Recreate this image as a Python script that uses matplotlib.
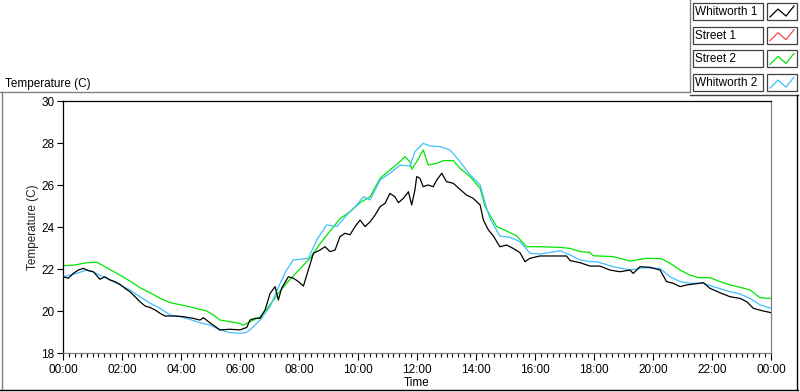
import matplotlib
matplotlib.use("Agg")
import matplotlib.pyplot as plt
from matplotlib.ticker import FixedLocator, FuncFormatter
from matplotlib.lines import Line2D
from matplotlib.patches import Rectangle

plt.rcParams['font.family'] = ['Liberation Sans', 'DejaVu Sans']

# hours since midnight, temperature in C
whit1_h = [0, 0.18, 0.35, 0.52, 0.69, 0.86, 1.03, 1.25, 1.42, 1.59,
           1.76, 1.93, 2.1, 2.27, 2.44, 2.61, 2.78, 2.95, 3.12, 3.29,
           3.46, 3.63, 3.8, 4.08, 4.42, 4.64, 4.76, 4.98, 5.32, 5.66,
           6.0, 6.23, 6.34, 6.51, 6.68, 6.85, 7.02, 7.19, 7.30, 7.41,
           7.64, 7.81, 7.98, 8.15, 8.28, 8.49, 8.71, 8.88, 9.05, 9.22,
           9.39, 9.56, 9.73, 9.90, 10.07, 10.24, 10.41, 10.58, 10.75, 10.92,
           11.08, 11.25, 11.37, 11.54, 11.71, 11.82, 11.93, 11.99, 12.10, 12.21,
           12.38, 12.55, 12.67, 12.84, 13.0, 13.23, 13.46, 13.68, 13.90, 14.14,
           14.25, 14.42, 14.59, 14.81, 15.04, 15.26, 15.49, 15.66, 15.83, 16.17,
           16.51, 16.85, 17.07, 17.19, 17.53, 17.86, 18.20, 18.54, 18.88, 19.22,
           19.33, 19.56, 19.90, 20.24, 20.46, 20.68, 20.92, 21.14, 21.42, 21.71,
           21.93, 22.27, 22.61, 22.95, 23.18, 23.40, 23.68, 24.0]
whit1_t = [21.63, 21.56, 21.79, 21.95, 22.03, 21.92, 21.87, 21.51, 21.63, 21.48,
           21.40, 21.27, 21.08, 20.92, 20.68, 20.44, 20.24, 20.17, 20.05, 19.89,
           19.76, 19.76, 19.76, 19.73, 19.65, 19.57, 19.68, 19.44, 19.1, 19.13,
           19.1, 19.22, 19.57, 19.65, 19.65, 20.05, 20.84, 21.16, 20.52, 21.08,
           21.63, 21.56, 21.40, 21.19, 21.79, 22.75, 22.90, 23.06, 22.83, 22.90,
           23.54, 23.70, 23.63, 24.02, 24.33, 24.02, 24.25, 24.57, 24.97, 25.13,
           25.60, 25.44, 25.16, 25.37, 25.68, 25.05, 25.76, 26.40, 26.32, 25.92,
           26.0, 25.92, 26.24, 26.56, 26.16, 26.08, 25.79, 25.52, 25.37, 25.05,
           24.33, 23.86, 23.57, 23.06, 23.14, 22.98, 22.78, 22.35, 22.51, 22.62,
           22.62, 22.62, 22.62, 22.40, 22.30, 22.14, 22.14, 21.95, 21.87, 21.95,
           21.79, 22.11, 22.08, 21.95, 21.40, 21.32, 21.16, 21.24, 21.29, 21.35,
           21.08, 20.87, 20.68, 20.60, 20.44, 20.13, 20.02, 19.92]

street1_h = []
street1_t = []

street2_h = [0, 0.4, 0.8, 1.15, 1.59, 1.93, 2.3, 2.61, 2.95, 3.3,
             3.63, 4.0, 4.3, 4.87, 5.1, 5.32, 5.66, 6.0, 6.1, 6.34,
             6.68, 7.02, 7.36, 7.69, 8.03, 8.37, 8.71, 9.05, 9.39, 9.73,
             10.07, 10.41, 10.75, 11.08, 11.42, 11.59, 11.76, 11.82, 11.99, 12.21,
             12.38, 12.67, 12.89, 13.23, 13.46, 13.80, 14.14, 14.31, 14.47, 14.70,
             15.04, 15.38, 15.72, 16.17, 16.85, 17.19, 17.53, 17.86, 17.98, 18.65,
             19.22, 19.79, 20.29, 20.58, 20.92, 21.25, 21.54, 21.93, 22.27, 22.61,
             22.95, 23.29, 23.63, 24.0]
street2_t = [22.16, 22.19, 22.30, 22.32, 21.98, 21.71, 21.40, 21.11, 20.87, 20.60,
             20.40, 20.29, 20.20, 20.0, 19.81, 19.57, 19.49, 19.41, 19.32, 19.49,
             19.72, 20.3, 20.95, 21.5, 22.0, 22.5, 23.2, 23.8, 24.4, 24.73,
             25.16, 25.44, 26.32, 26.71, 27.11, 27.35, 27.11, 26.75, 27.11, 27.67,
             26.95, 27.03, 27.16, 27.16, 26.79, 26.40, 25.84, 24.97, 24.57, 24.02,
             23.81, 23.57, 23.06, 23.06, 23.03, 22.98, 22.83, 22.79, 22.63, 22.59,
             22.38, 22.51, 22.49, 22.27, 21.95, 21.71, 21.59, 21.59, 21.40, 21.24,
             21.13, 21.0, 20.63, 20.60]

whit2_h = [0, 0.46, 0.8, 0.92, 1.25, 1.59, 1.93, 2.27, 2.61, 2.95,
           3.29, 3.63, 3.97, 4.3, 4.64, 4.98, 5.32, 5.66, 6.0, 6.2,
           6.34, 6.68, 7.02, 7.36, 7.58, 7.80, 8.03, 8.32, 8.6, 8.94,
           9.28, 9.62, 9.96, 10.18, 10.41, 10.75, 11.08, 11.42, 11.76, 11.93,
           12.21, 12.44, 12.78, 13.12, 13.46, 13.8, 14.14, 14.31, 14.47, 14.81,
           15.15, 15.49, 15.83, 16.17, 16.85, 17.19, 17.53, 17.86, 18.09, 18.65,
           19.22, 19.67, 20.24, 20.58, 20.92, 21.25, 21.71, 22.05, 22.61, 22.95,
           23.29, 23.63, 24.0]
whit2_t = [21.63, 21.79, 21.95, 21.92, 21.71, 21.48, 21.24, 21.0, 20.68, 20.37,
           20.13, 19.81, 19.73, 19.60, 19.44, 19.33, 19.1, 18.97, 18.94, 18.97,
           19.1, 19.57, 20.21, 21.32, 21.95, 22.43, 22.46, 22.51, 23.38, 24.1,
           24.02, 24.57, 25.05, 25.44, 25.29, 26.24, 26.56, 26.95, 26.90, 27.59,
           27.98, 27.86, 27.83, 27.67, 27.11, 26.48, 26.0, 25.13, 24.41, 23.57,
           23.51, 23.30, 22.75, 22.71, 22.87, 22.67, 22.43, 22.35, 22.35, 22.11,
           21.95, 22.06, 22.03, 21.63, 21.40, 21.32, 21.32, 21.16, 20.92, 20.81,
           20.60, 20.29, 20.13]

names = ['Whitworth 1', 'Street 1', 'Street 2', 'Whitworth 2']
colors = ['#000000', '#FF4040', '#00E600', '#40BFFF']

W, H = 800, 392
fig = plt.figure(figsize=(8, 3.92), dpi=100)
ax = fig.add_axes([63 / W, 1 - 353 / H, 708 / W, 252 / H])

series = [(whit1_h, whit1_t), (street1_h, street1_t), (street2_h, street2_t), (whit2_h, whit2_t)]
zord = [4, 1, 2, 3]
for (hh, tt), c, z in zip(series, colors, zord):
    ax.plot(hh, tt, color=c, lw=0.9, zorder=z)

ax.set_xlim(0, 24)
ax.set_ylim(18, 30)
ax.xaxis.set_major_locator(FixedLocator(list(range(0, 25, 2))))
ax.xaxis.set_minor_locator(FixedLocator([i * 0.2 for i in range(121)]))
ax.xaxis.set_major_formatter(FuncFormatter(lambda v, p: '%02d:00' % (int(round(v)) % 24)))
ax.yaxis.set_major_locator(FixedLocator(list(range(18, 31, 2))))
ax.tick_params(axis='x', which='major', length=5, width=0.8, labelsize=8.5, pad=3, color='black')
ax.tick_params(axis='x', which='minor', length=3, width=0.8, color='black')
ax.tick_params(axis='y', which='major', length=4, width=0.8, labelsize=8.5, pad=2, color='black')

for s in ['left', 'top']:
    ax.spines[s].set_color('black')
for s in ['right', 'bottom']:
    ax.spines[s].set_color('#808080')
for s in ax.spines.values():
    s.set_linewidth(0.9)

ax.set_xlabel('Time', fontsize=8.5, labelpad=1)
ax.set_ylabel('Temperature (C)', fontsize=8.5, labelpad=2, color='#202020')
fig.text(5 / W, 1 - 87 / H, 'Temperature (C)', fontsize=8.5, ha='left', va='baseline')


def fx(px):
    return px / W


def fy(py):
    return 1 - py / H


# outer frame
fig.add_artist(Line2D([fx(2), fx(2)], [fy(92), fy(390)], color='#808080', lw=1))
fig.add_artist(Line2D([fx(0), fx(690)], [fy(92), fy(92)], color='#808080', lw=1))
fig.add_artist(Line2D([fx(690), fx(690)], [fy(0), fy(92)], color='#808080', lw=1))
fig.add_artist(Line2D([fx(690), fx(798)], [fy(95), fy(95)], color='#404040', lw=1))
fig.add_artist(Line2D([fx(797), fx(797)], [fy(95), fy(390)], color='black', lw=1))
fig.add_artist(Line2D([fx(0), fx(798)], [fy(390), fy(390)], color='black', lw=1))

# legend boxes
for i, (nm, c) in enumerate(zip(names, colors)):
    top = 3 + i * 23.7
    bot = top + 17
    fig.add_artist(Rectangle((fx(693), fy(bot)), fx(70), fy(top) - fy(bot),
                             facecolor='white', edgecolor='#404040', lw=0.9))
    fig.text(fx(695), fy((top + bot) / 2 + 0.5), nm, fontsize=8.5, ha='left', va='center')
    fig.add_artist(Rectangle((fx(767), fy(bot)), fx(30), fy(top) - fy(bot),
                             facecolor='white', edgecolor='#404040', lw=0.9))
    zx = [770, 778, 786, 794]
    zy = [bot - 3, top + 6, bot - 4, top + 3]
    fig.add_artist(Line2D([fx(v) for v in zx], [fy(v) for v in zy], color=c, lw=0.9))

fig.savefig('out.png', dpi=100)
